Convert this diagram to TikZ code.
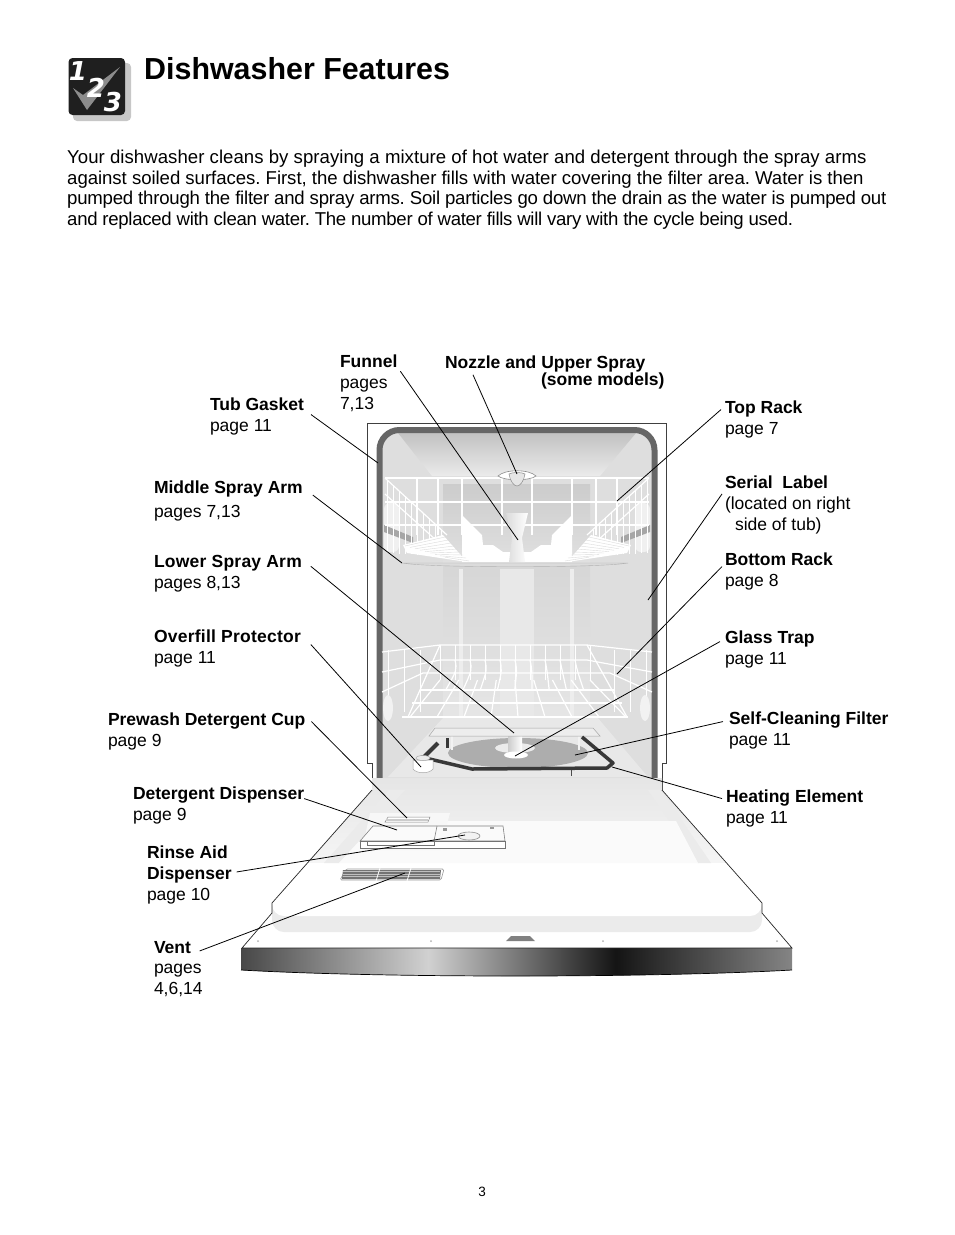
\documentclass[tikz,border=0pt]{standalone}
\usepackage{xcolor}
\usepackage{fontspec}
\setmainfont{Liberation Sans}
\newfontfamily\digitfont{DejaVu Sans}
\usetikzlibrary{calc}
\definecolor{gasket}{HTML}{666666}
\definecolor{tubwall}{HTML}{DEDEDE}
\definecolor{doorband}{HTML}{EBEBEB}
\definecolor{filtergray}{HTML}{ADADAD}
\pgfdeclarehorizontalshading{panelshade}{100bp}{
    color(0bp)=(black!72);
    color(25bp)=(black!72);
    color(42bp)=(black!18);
    color(59bp)=(black!92);
    color(75bp)=(black!48);
    color(100bp)=(black!48)
}
\newcommand{\featname}[2][0]{{\bfseries\addfontfeatures{LetterSpace=#1}#2}}
\newcommand{\introline}[2]{{\addfontfeatures{LetterSpace=#1}#2}}
\tikzset{
    part/.style={anchor=north west, align=left, inner xsep=5pt, inner ysep=0pt, outer sep=0pt,
        font=\fontsize{17.5}{20.8}\selectfont\frenchspacing},
    leader/.style={draw=black, line width=0.8pt},
    wire/.style={draw=white, line width=1.2pt},
    thinwire/.style={draw=white, line width=0.7pt},
    shell/.style={draw=black!75, line width=0.8pt},
    digit/.style={text=white, inner sep=0pt, font=\fontsize{26}{26}\selectfont\digitfont\bfseries\itshape}
}
\begin{document}
\begin{tikzpicture}[x=1pt,y=-1pt]
    \useasboundingbox (0,0) rectangle (954,1235);
    % heading
    \fill [black!22, rounded corners=4pt] (73,63) rectangle (131,121);
    \fill [black!88, rounded corners=4pt] (68.5,58) rectangle (125,115);
    \fill [black!45] (73,88) -- (83,95) -- (120,67) -- (87,110) -- cycle;
    \node (one) [digit] at (78,71) {1};
    \node (two) [digit] at (96,88) {2};
    \node (three) [digit] at (113,102) {3};
    \node (title) [anchor=base west, inner sep=0pt, font=\fontsize{30.4}{30}\selectfont\bfseries] at (144,79) {Dishwasher Features};
    \node (intro) [anchor=north west, align=left, inner sep=0pt, font=\fontsize{18.6}{20.5}\selectfont\frenchspacing] at (67,150)
        {\introline{0.2}{Your dishwasher cleans by spraying a mixture of hot water and detergent through the spray arms}\\
         \introline{-0.25}{against soiled surfaces. First, the dishwasher fills with water covering the filter area. Water is then}\\
         \introline{-1.2}{pumped through the filter and spray arms. Soil particles go down the drain as the water is pumped out}\\
         \introline{-1.6}{and replaced with clean water. The number of water fills will vary with the cycle being used.}};

    % tub
    \fill [tubwall, rounded corners=18pt] (380,790) -- (380,430) -- (655,430) -- (655,790) -- cycle;
    \shade [top color=black!24, bottom color=black!8] (398,433) -- (636,433) -- (600,476) -- (432,476) -- cycle;
    \shade [top color=black!20, bottom color=black!12] (443,484) rectangle (590,563);
    \shade [top color=black!16, bottom color=black!10] (443,563) rectangle (590,717);
    \fill [black!9] (500,569) rectangle (534,717);
    \fill [black!7] (459,569) rectangle (463,717);
    \fill [black!7] (570,569) rectangle (574,717);
    \fill [black!9] (388,777) -- (444,717) -- (597,717) -- (648,777) -- cycle;
    \draw [gasket, line width=6pt, rounded corners=20pt] (379.5,783) -- (379.5,430) -- (654.5,430) -- (654.5,783);
    \draw [shell] (372,790) -- (372,763) -- (367,763) -- (367,423) -- (666,423) -- (666,763) -- (662,763) -- (662,790);

    % top rack, one half drawn twice
    \foreach \side in {1,-1}{
        \begin{scope}[xshift=517pt, xscale=\side]
            \fill [black!6, rounded corners=6pt] (-133,503) rectangle (-118,552);
            \fill [black!35] (-133,525) -- (-104,537) -- (-104,543) -- (-133,532) -- cycle;
            \foreach \u in {-130,-124,...,-76}{
                \draw [thinwire] (\u,{478+(\u+132)*0.92}) -- (\u,{553+(\u+132)*0.05});
            }
            \draw [wire] (-132,478) -- (-70,535);
            \draw [wire] (-132,494) -- (-70,550);
            \foreach \u in {-100,-79,-55,-15}{
                \draw [wire] (\u,478) -- (\u,535);
            }
            \draw [wire] (-132,478) -- (0,478);
            \draw [wire] (-132,502) -- (0,502);
            \draw [wire] (-132,525) -- (0,525);
            \fill [white] (-55,515) -- (-35,535) -- (-34,545) -- (-24,545) -- (-14,552) -- (0,552) -- (0,562) -- (-55,562) -- cycle;
            \fill [white] (-114,545) -- (-74,535) -- (-50,562) -- (-110,553) -- cycle;
            \foreach \k in {0,...,8}{
                \draw [black!14, line width=0.4pt] ({-112+\k*5},{546+\k*1.4}) -- ({-72+\k*3},{537+\k*3});
            }
        \end{scope}
    }
    % funnel and spray arm
    \shade [left color=black!14, right color=white] (506,513) -- (528,513) -- (522,538) -- (525,562) -- (509,562) -- (512,538) -- cycle;
    \fill [black!14, draw=black!30, line width=0.4pt] (402,563) -- (628,563) .. controls (600,568) and (430,568) .. (402,563) -- cycle;
    \draw [black!45, fill=white, line width=0.6pt] (498,476) .. controls (505,469) and (529,469) .. (536,476) .. controls (530,481) and (504,481) .. (498,476) -- cycle;
    \fill [black!10, draw=black!45, line width=0.5pt] (509,474) .. controls (512,472) and (522,472) .. (525,474) .. controls (524,481) and (520,486) .. (517,486) .. controls (514,486) and (510,481) .. (509,474) -- cycle;

    % bottom rack
    \foreach \i in {0,...,8}{
        \draw [wire] ({440+\i*18.75},680) -- ({410+\i*27},717);
    }
    \foreach \u in {440,455,...,590}{
        \draw [thinwire] (\u,645) -- (\u,680);
    }
    \foreach \t in {455,470,...,575}{
        \draw [wire] (\t,660) .. controls ({\t+2},670) .. ({\t+(\t-517)*0.15},690);
    }
    \draw [wire] (382,652) -- (440,645) -- (587,645) -- (652,652);
    \draw [wire] (382,672) -- (440,660) -- (587,660) -- (652,672);
    \draw [wire] (382,692) -- (423,673) -- (610,673) -- (652,692);
    \draw [wire] (420,690) -- (614,690);
    \draw [wire] (412,703) -- (622,703);
    \draw [wire] (402,717) -- (628,717);
    \draw [wire] (440,645) -- (408,717);
    \draw [wire] (587,645) -- (627,717);
    \foreach \u in {388,404,420,614,630,646}{
        \draw [thinwire] (\u,650) -- (\u,712);
    }
    \fill [black!5] (388,708) ellipse [x radius=5pt, y radius=13pt];
    \fill [black!5] (645,708) ellipse [x radius=5pt, y radius=13pt];

    % door
    \shade [top color=black!10, bottom color=black!1] (372,778) -- (662,778) -- (662,790) -- (762,903) -- (272,903) -- (372,790) -- cycle;
    \fill [white] (272,863) rectangle (762,916);
    \fill [white] (272,903) -- (762,903) -- (792,948) -- (242,948) -- cycle;
    \fill [doorband] (324,863) -- (339,863) -- (405,790) -- (389,790) -- cycle;
    \fill [doorband] (711,863) -- (698,863) -- (648,790) -- (661,790) -- cycle;
    \fill [black!2] (339,863) -- (698,863) -- (676,821) -- (378,821) -- cycle;
    \fill [doorband, rounded corners=12pt] (272,895) -- (272,932) -- (762,932) -- (762,895) -- cycle;
    \fill [white, rounded corners=12pt] (272,890) -- (272,916) -- (762,916) -- (762,890) -- cycle;
    \fill [white] (272,885) rectangle (762,903);
    \fill [black!50] (506,941) -- (511,936) -- (530,936) -- (535,941) -- cycle;
    \foreach \u in {258,431,603,777}{
        \fill [black!30] (\u,941) circle [radius=1pt];
    }
    \shade [shading=panelshade] (241,948) -- (792,948) -- (792,970) .. controls (650,978) and (380,978) .. (241,970) -- cycle;
    \draw [black, line width=0.7pt] (241,970) .. controls (380,978) and (650,978) .. (792,970);
    \draw [black!85, line width=0.7pt] (372,790) -- (272,903) -- (272,913);
    \draw [black!85, line width=0.7pt] (272,913) -- (242,948) -- (792,948) -- (762,913) -- (762,903) -- (662,790);

    % dispensers and vent
    \fill [black!3] (370,813) -- (450,813) -- (440,850) -- (362,850) -- cycle;
    \draw [black!45, fill=white, line width=0.5pt] (385,822) -- (388,817) -- (430,817) -- (428,822) -- cycle;
    \fill [black!20] (386,821) rectangle (428,819);
    \draw [black!50, fill=black!2, line width=0.6pt] (373,826) -- (503,826) -- (505,841) -- (360,841) -- cycle;
    \draw [black!50, line width=0.6pt] (437,826) -- (434,841);
    \draw [black!55, fill=white, line width=0.6pt] (360,841) rectangle (505,848);
    \draw [black!55, line width=0.6pt] (367,841) -- (367,845) -- (434,845) -- (434,841);
    \fill [black!40] (443,828) rectangle (447,831);
    \fill [black!40] (490,827) rectangle (494,829);
    \draw [black!45, fill=black!5, line width=0.6pt] (469,836) ellipse [x radius=11pt, y radius=4pt];
    \draw [black!40, line width=0.6pt, rounded corners=1.5pt] (340,880) -- (346,869) -- (444,869) -- (441,880) -- cycle;
    \fill [black!55] (343,870) -- (441,870) -- (440,879) -- (342,879) -- cycle;
    \foreach \v in {871.5,874,876.5}{
        \draw [black!25, line width=0.6pt] (343,\v) -- (440,\v);
    }
    \draw [white, line width=0.8pt] (380,868) -- (376,881);
    \draw [white, line width=0.8pt] (411,868) -- (407,881);

    % sump
    \fill [filtergray] (518,753) ellipse [x radius=70pt, y radius=15pt];
    \fill [black!5] (451,736) rectangle (453,750);
    \fill [black!5] (578,736) rectangle (580,750);
    \fill [black!8] (515,748) ellipse [x radius=20pt, y radius=5pt];
    \shade [left color=black!20, right color=white] (508,736) rectangle (522,752);
    \fill [white] (516,755) ellipse [x radius=12pt, y radius=3.5pt];
    \draw [black!35, fill=black!7, line width=0.5pt] (429,736) -- (435,728) -- (593,728) -- (600,736) -- cycle;
    \draw [black!78, line width=3.5pt, line join=round] (421,757) -- (472,769) -- (607,768) -- (613,763) -- (582,737);
    \draw [black!78, line width=4pt] (424,757) -- (438,743);
    \draw [black!78, line width=3pt] (447,738) -- (447,748);
    \draw [black!70, line width=1pt] (571,770) -- (571,776);
    \draw [black!35, fill=white, line width=0.5pt] (413,760) -- (413,769) .. controls (417,774) and (429,774) .. (433,769) -- (433,760) -- cycle;
    \draw [black!35, fill=black!8, line width=0.5pt] (423,758) ellipse [x radius=7pt, y radius=2.5pt];

    % labels, left side
    \node (funnel) [part] at (335,355) {\featname{Funnel}\\pages\\7,13};
    \node (nozzle) [part] at (440,356) {\featname{Nozzle and Upper Spray}\\[-3.5pt]\hspace*{96pt}\featname{(some models)}};
    \node (tubgasket) [part] at (205,398) {\featname{Tub Gasket}\\page 11};
    \node (middlearm) [part] at (149,481) {\featname{Middle Spray Arm}\\[3pt]pages 7,13};
    \node (lowerarm) [part] at (149,555) {\featname[1.4]{Lower Spray Arm}\\pages 8,13};
    \node (overfill) [part] at (149,630) {\featname[1.4]{Overfill Protector}\\page 11};
    \node (prewash) [part] at (103,713) {\featname{Prewash Detergent Cup}\\page 9};
    \node (detergent) [part] at (128,787) {\featname{Detergent Dispenser}\\page 9};
    \node (rinseaid) [part] at (142,846) {\featname{Rinse Aid}\\\featname{Dispenser}\\page 10};
    \node (vent) [part] at (149,941) {\featname{Vent}\\pages\\4,6,14};
    % labels, right side
    \node (toprack) [part] at (720,401) {\featname{Top Rack}\\page 7};
    \node (serial) [part] at (720,476) {\featname{Serial\ \ Label}\\(located on right\\\hspace*{10pt}side of tub)};
    \node (bottomrack) [part] at (720,553) {\featname{Bottom Rack}\\page 8};
    \node (glasstrap) [part] at (720,631) {\featname{Glass Trap}\\page 11};
    \node (selfclean) [part] at (724,712) {\featname{Self-Cleaning Filter}\\page 11};
    \node (heating) [part] at (721,790) {\featname{Heating Element}\\page 11};
    \node (pagenum) [inner sep=0pt, font=\fontsize{13.5}{14}\selectfont] at (482,1192) {3};

    % connector ends
    \coordinate (funnelend) at (518,540);
    \coordinate (nozzleend) at (517,474);
    \coordinate (gasketend) at (378,463);
    \coordinate (middleend) at (402,563);
    \coordinate (lowerend) at (514,733);
    \coordinate (overfillend) at (421,767);
    \coordinate (prewashend) at (407,818);
    \coordinate (detergentend) at (397,830);
    \coordinate (rinseend) at (465,835);
    \coordinate (ventend) at (405,873);
    \coordinate (toprackend) at (617,501);
    \coordinate (serialend) at (648,600);
    \coordinate (bottomend) at (617,674);
    \coordinate (trapend) at (515,756);
    \coordinate (filterend) at (575,755);
    \coordinate (heatingend) at (612,767);

    \draw [leader] ([shift={(-2,-12)}]funnel.east) -- (funnelend);
    \draw [leader] ([shift={(33,2)}]nozzle.west) -- (nozzleend);
    \draw [leader] ([shift={(2,-2)}]tubgasket.east) -- (gasketend);
    \draw [leader] ([shift={(5,-6)}]middlearm.east) -- (middleend);
    \draw [leader] ([shift={(4,-7)}]lowerarm.east) -- (lowerend);
    \draw [leader] ([shift={(5,-4)}]overfill.east) -- (overfillend);
    \draw [leader] ([shift={(1,-10)}]prewash.east) -- (prewashend);
    \draw [leader] ([shift={(-5,-7)}]detergent.east) -- (detergentend);
    \draw [leader] ([shift={(0,-3)}]rinseaid.east) -- (rinseend);
    \draw [leader] ([shift={(-8,-18)}]vent.east) -- (ventend);
    \draw [leader] ([shift={(1,-10)}]toprack.west) -- (toprackend);
    \draw [leader] ([shift={(2,-11)}]serial.west) -- (serialend);
    \draw [leader] ([shift={(2,-5)}]bottomrack.west) -- (bottomend);
    \draw [leader] ([shift={(0,-8)}]glasstrap.west) -- (trapend);
    \draw [leader] ([shift={(-1,-9)}]selfclean.west) -- (filterend);
    \draw [leader] ([shift={(1,-10)}]heating.west) -- (heatingend);
\end{tikzpicture}
\end{document}
